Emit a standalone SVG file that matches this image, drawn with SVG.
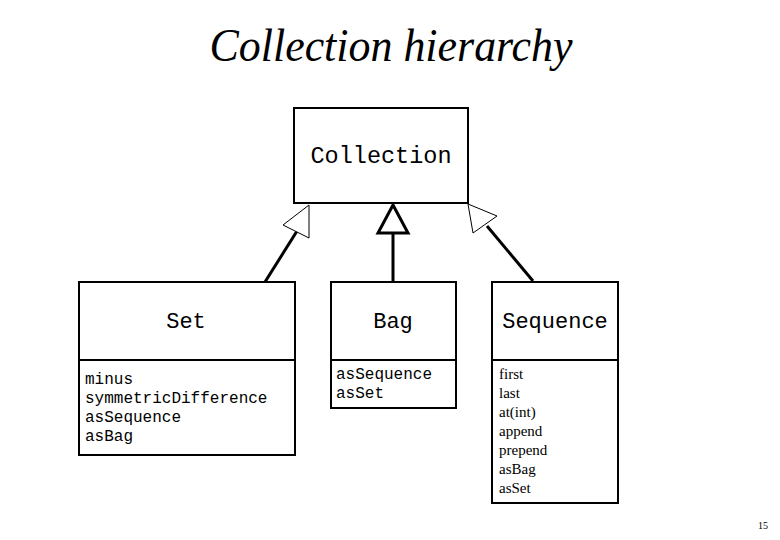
<svg xmlns="http://www.w3.org/2000/svg" width="780" height="540" viewBox="0 0 780 540">
<style>
.box{fill:#fff;stroke:#000;stroke-width:2}
.mono{font-family:"Liberation Mono","Courier New",monospace;fill:#000}
.serif{font-family:"Liberation Serif","Times New Roman",serif;fill:#000}
.thick{stroke:#000;stroke-width:3;fill:none}
.thin{stroke:#000;stroke-width:1;fill:#fff}
</style>
<rect width="780" height="540" fill="#fff"/>
<text class="serif" x="391" y="61" font-size="46" font-style="italic" text-anchor="middle" textLength="363" lengthAdjust="spacingAndGlyphs">Collection hierarchy</text>
<g id="connectors">
<line class="thick" x1="265" y1="282" x2="297" y2="231"/>
<polygon class="thin" points="309,205 283,225 309,238"/>
<line class="thick" x1="393" y1="233" x2="393" y2="282"/>
<polygon class="thick" points="393,205 378,233 408,233"/>
<line class="thick" x1="487" y1="226" x2="533" y2="281"/>
<polygon class="thin" points="468,204 497,216 473,233"/>
</g>
<g id="collection">
<rect class="box" x="294" y="108" width="174" height="95"/>
<text class="mono" x="381" y="163" font-size="23.5" text-anchor="middle">Collection</text>
</g>
<g id="set">
<rect class="box" x="79" y="282" width="216" height="173"/>
<line x1="79" y1="360" x2="295" y2="360" stroke="#000" stroke-width="2"/>
<text class="mono" x="186" y="328" font-size="22" text-anchor="middle">Set</text>
<text class="mono" font-size="16">
<tspan x="85" y="384">minus</tspan>
<tspan x="85" y="403">symmetricDifference</tspan>
<tspan x="85" y="422">asSequence</tspan>
<tspan x="85" y="441">asBag</tspan>
</text>
</g>
<g id="bag">
<rect class="box" x="331" y="282" width="125" height="126"/>
<line x1="331" y1="360" x2="456" y2="360" stroke="#000" stroke-width="2"/>
<text class="mono" x="393" y="328" font-size="22" text-anchor="middle">Bag</text>
<text class="mono" font-size="16">
<tspan x="336" y="379">asSequence</tspan>
<tspan x="336" y="398">asSet</tspan>
</text>
</g>
<g id="sequence">
<rect class="box" x="492" y="282" width="126" height="221"/>
<line x1="492" y1="360" x2="618" y2="360" stroke="#000" stroke-width="2"/>
<text class="mono" x="555" y="328" font-size="22" text-anchor="middle">Sequence</text>
<text class="serif" font-size="15">
<tspan x="499" y="379">first</tspan>
<tspan x="499" y="398">last</tspan>
<tspan x="499" y="417">at(int)</tspan>
<tspan x="499" y="436">append</tspan>
<tspan x="499" y="455">prepend</tspan>
<tspan x="499" y="474">asBag</tspan>
<tspan x="499" y="493">asSet</tspan>
</text>
</g>
<text class="serif" x="763" y="529" font-size="10" text-anchor="middle">15</text>
</svg>
